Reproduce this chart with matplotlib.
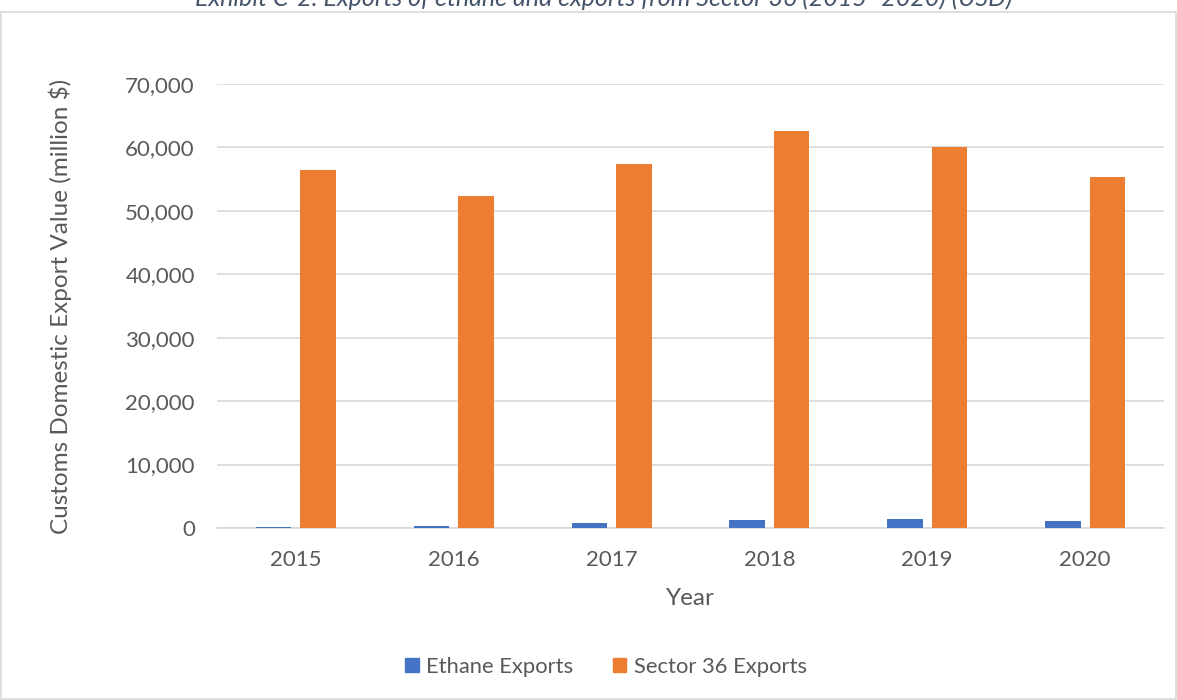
import matplotlib
matplotlib.use("Agg")
import matplotlib.pyplot as plt
import numpy as np
from matplotlib.patches import Rectangle

years = ["2015", "2016", "2017", "2018", "2019", "2020"]
ethane = [150, 300, 800, 1200, 1370, 1050]
sector36 = [56400, 52400, 57450, 62600, 60100, 55400]
yticks = [0, 10000, 20000, 30000, 40000, 50000, 60000, 70000]

plt.rcParams['font.family'] = ['Lato', 'DejaVu Sans']
txt = '#595959'

W, H = 1177, 700
fig = plt.figure(figsize=(W/100, H/100), dpi=100)

fig.patches.append(Rectangle((1/W, 1/H), (W-2)/W, (H-13)/H, transform=fig.transFigure,
                             fill=False, edgecolor='#D9D9D9', linewidth=1.2))

ax = fig.add_axes([217/W, (H-528)/H, (1164-217)/W, (528-84)/H])
x = np.arange(len(years))
bw = 0.225
off = 0.141
ax.bar(x - off, ethane, bw, color='#4472C4', zorder=3)
ax.bar(x + off, sector36, bw, color='#ED7D31', zorder=3)

ax.set_xlim(-0.5, len(years) - 0.5)
ax.set_ylim(0, 70000)
ax.set_yticks(yticks)
ax.set_yticklabels([f"{v:,}" for v in yticks])
ax.set_xticks(x)
ax.set_xticklabels(years)
ax.tick_params(axis='both', length=0, labelsize=16, colors=txt)
ax.tick_params(axis='y', pad=16)
ax.tick_params(axis='x', pad=16)
ax.grid(axis='y', color='#D9D9D9', linewidth=1.2, zorder=0)
for s in ['top', 'right', 'left']:
    ax.spines[s].set_visible(False)
ax.spines['bottom'].set_color('#D9D9D9')
ax.spines['bottom'].set_linewidth(1.2)

ax.set_xlabel("Year", fontsize=17.5, color=txt, labelpad=13)
ax.set_ylabel("Customs Domestic Export Value (million $)", fontsize=17.5, color=txt, labelpad=38)

fig.text(604/W, (H-6)/H, "Exhibit C-2. Exports of ethane and exports from Sector 36 (2015\u20132020) (USD)",
         ha='center', va='baseline', fontsize=18, style='italic', color='#44546A')

handles = [Rectangle((0, 0), 1, 1, color='#4472C4'), Rectangle((0, 0), 1, 1, color='#ED7D31')]
fig.legend(handles, ["Ethane Exports", "Sector 36 Exports"], loc='center',
           bbox_to_anchor=(606/W, (H-667)/H), ncol=2, frameon=False, fontsize=15.8,
           labelcolor=txt, handlelength=0.62, handleheight=0.62, handletextpad=0.35,
           columnspacing=1.8)

fig.savefig("out.png", dpi=100)
